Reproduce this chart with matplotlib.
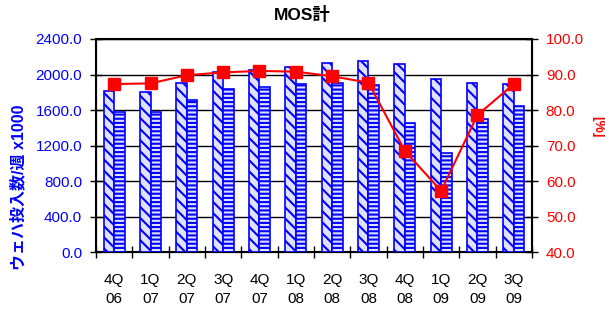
import numpy as np
import matplotlib
matplotlib.use('Agg')
import matplotlib.pyplot as plt

plt.rcParams['font.family'] = ['Liberation Sans', 'Noto Sans CJK JP', 'DejaVu Sans']
plt.rcParams['hatch.color'] = '#0000ff'
plt.rcParams['hatch.linewidth'] = 1.5

quarters = ['4Q\n06', '1Q\n07', '2Q\n07', '3Q\n07', '4Q\n07', '1Q\n08',
            '2Q\n08', '3Q\n08', '4Q\n08', '1Q\n09', '2Q\n09', '3Q\n09']
capacity = [1810, 1800, 1900, 2027, 2056, 2087, 2128, 2151, 2117, 1948, 1900, 1890]
wafers_in = [1575, 1575, 1710, 1833, 1859, 1893, 1904, 1882, 1450, 1115, 1495, 1642]
utilization = [87.3, 87.5, 89.8, 90.6, 91.0, 90.8, 89.5, 87.7, 68.5, 57.2, 78.6, 87.3]

blue = '#0000ff'
red = '#ff0000'

fig = plt.figure(figsize=(6.05, 3.11), dpi=100)
ax = fig.add_axes([0.1587, 0.1897, 0.7206, 0.6849])

x = np.arange(len(quarters))
w = 0.29
ax.bar(x - w / 2, capacity, w, facecolor='#e0e0ff', edgecolor=blue,
       hatch='\\\\\\', linewidth=1.2, zorder=3)
ax.bar(x + w / 2, wafers_in, w, facecolor='#e0e0ff', edgecolor=blue,
       hatch='----', linewidth=1.2, zorder=3)

ax.set_xlim(-0.5, len(quarters) - 0.5)
ax.set_ylim(0, 2400)
ax.set_yticks(np.arange(0, 2401, 400))
ax.set_yticklabels(['%.1f' % v for v in np.arange(0, 2401, 400)])
ax.yaxis.grid(True, color='black', linewidth=1)
ax.set_axisbelow(True)
ax.tick_params(axis='y', colors=blue, labelsize=11, direction='inout', length=8,
               width=1, pad=6)
ax.tick_params(axis='y', which='both', color='black')

# major ticks sit between the quarters, labels on the minor ones
ax.set_xticks(np.arange(-0.5, len(quarters), 1))
ax.set_xticklabels([])
ax.set_xticks(x, minor=True)
ax.set_xticklabels(quarters, minor=True, fontsize=11, linespacing=1.45)
ax.tick_params(axis='x', which='major', direction='inout', length=8, width=1)
ax.tick_params(axis='x', which='minor', length=0, pad=15)

for s in ax.spines.values():
    s.set_linewidth(1.5)

ax2 = ax.twinx()
ax2.plot(x, utilization, color=red, marker='s', markersize=8, linewidth=1.5, zorder=5)
ax2.set_ylim(40, 100)
ax2.set_yticks(np.arange(40, 101, 10))
ax2.set_yticklabels(['%.1f' % v for v in np.arange(40, 101, 10)])
ax2.tick_params(axis='y', labelcolor=red, labelsize=11, direction='inout', length=8,
                width=1, pad=6)

fig.text(0.5, 0.952, 'MOS計', ha='center', va='center', fontsize=12.5, fontweight='bold')
fig.text(18 / 605, 1 - 187 / 311, 'ウェハ投入数/週 x1000', rotation=90, ha='center',
         va='center', color=blue, fontsize=11.5, fontweight='bold')
fig.text(598 / 605, 1 - 127 / 311, '[%]', rotation=-90, ha='center', va='center',
         color=red, fontsize=10, fontweight='bold')

fig.savefig('out.png', dpi=100)
